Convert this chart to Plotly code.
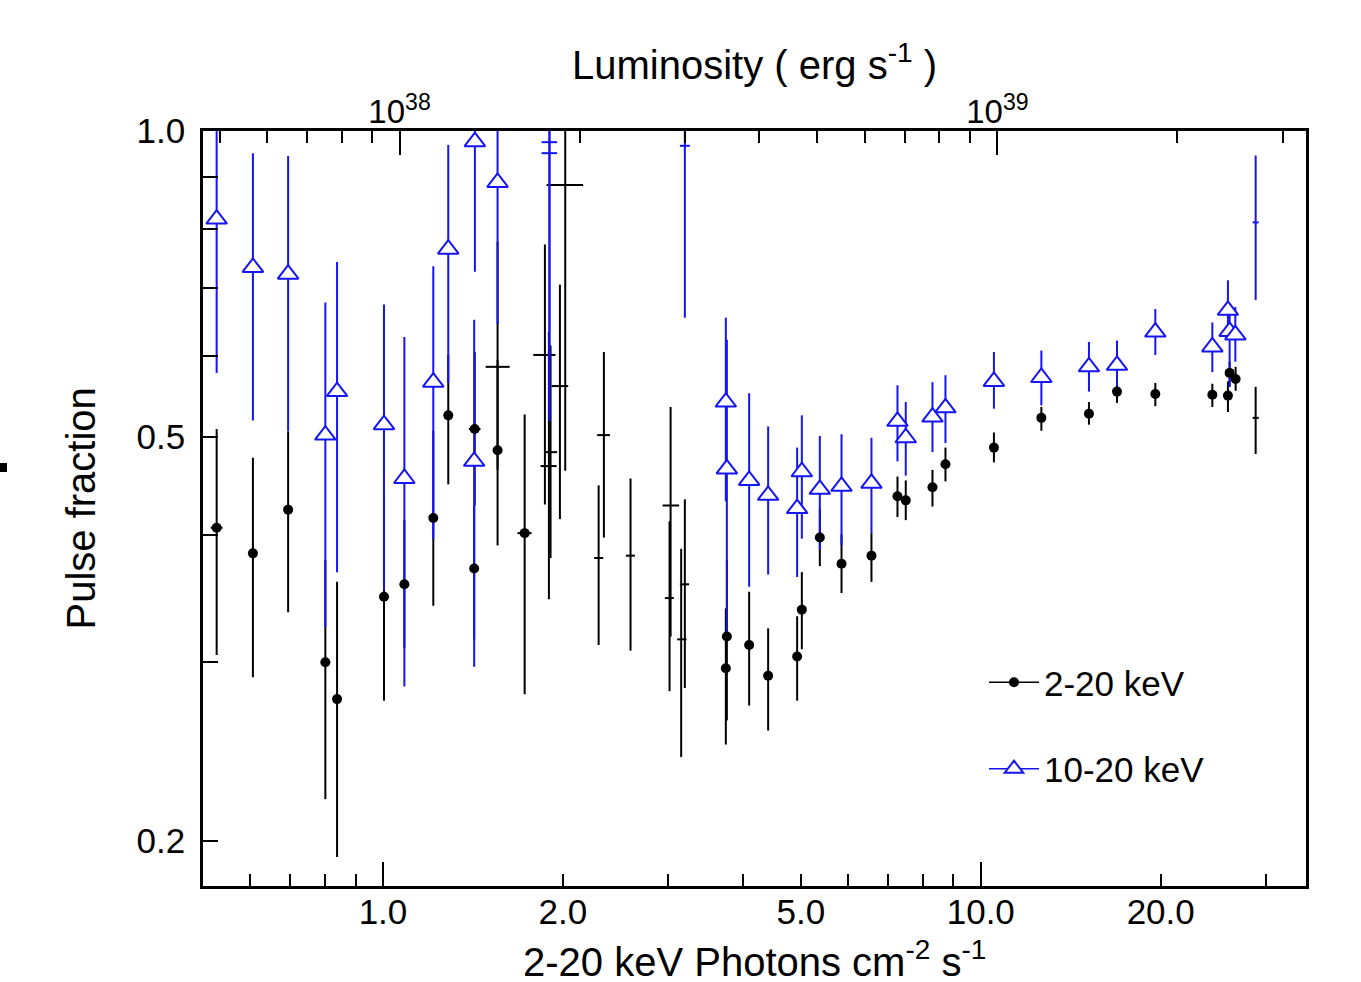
import math
import plotly.graph_objects as go

# ---------------- data ----------------
# 2-20 keV pulse fraction, filled dots
hard_x    = [0.527, 0.606, 0.694, 0.801, 0.838, 1.004, 1.086, 1.214, 1.286, 1.424, 1.421, 1.555, 1.726,
             3.761, 3.746, 4.098, 4.409, 4.930, 5.020, 5.380, 5.849, 6.564, 7.256, 7.491, 8.303, 8.729,
             10.52, 12.63, 15.17, 16.90, 19.59, 24.40, 25.91, 26.08, 26.69]
hard_xerr = [0.012, 0.005, 0.005, 0.006, 0.006, 0.007, 0.008, 0.009, 0.009, 0.032, 0.010, 0.011, 0.047,
             0.025, 0.025, 0.030, 0.030, 0.035, 0.035, 0.040, 0.040, 0.045, 0.050, 0.050, 0.060, 0.060,
             0.070, 0.090, 0.100, 0.120, 0.130, 0.170, 0.180, 0.180, 0.180]
hard_y    = [0.407, 0.384, 0.424, 0.300, 0.276, 0.348, 0.358, 0.416, 0.525, 0.509, 0.371, 0.485, 0.402,
             0.318, 0.296, 0.312, 0.291, 0.304, 0.338, 0.398, 0.375, 0.382, 0.437, 0.433, 0.446, 0.470,
             0.488, 0.522, 0.527, 0.554, 0.551, 0.550, 0.549, 0.578, 0.570]
hard_yhi  = [0.509, 0.477, 0.506, 0.378, 0.360, 0.441, 0.414, 0.507, 0.602, 0.606, 0.428, 0.595, 0.526,
             0.378, 0.339, 0.352, 0.324, 0.333, 0.368, 0.425, 0.401, 0.402, 0.457, 0.453, 0.464, 0.488,
             0.505, 0.535, 0.541, 0.567, 0.565, 0.564, 0.567, 0.593, 0.586]
hard_ylo  = [0.305, 0.290, 0.336, 0.220, 0.193, 0.275, 0.310, 0.341, 0.449, 0.428, 0.316, 0.391, 0.279,
             0.263, 0.249, 0.272, 0.257, 0.275, 0.309, 0.373, 0.351, 0.360, 0.417, 0.414, 0.427, 0.452,
             0.472, 0.507, 0.514, 0.540, 0.536, 0.535, 0.529, 0.560, 0.555]

# 10-20 keV pulse fraction, open triangles
soft_x   = [0.527, 0.606, 0.694, 0.801, 0.838, 1.004, 1.086, 1.214, 1.286, 1.425, 1.421, 1.555,
            3.746, 3.761, 4.098, 4.409, 4.930, 5.020, 5.380, 5.849, 6.564, 7.256, 7.491, 8.303, 8.729,
            10.52, 12.63, 15.17, 16.90, 19.59, 24.40, 25.91, 26.08, 26.66]
soft_y   = [0.819, 0.734, 0.723, 0.502, 0.554, 0.514, 0.455, 0.566, 0.765, 0.976, 0.473, 0.890,
            0.541, 0.465, 0.453, 0.438, 0.425, 0.462, 0.444, 0.447, 0.450, 0.518, 0.499, 0.523, 0.534,
            0.567, 0.572, 0.586, 0.588, 0.634, 0.613, 0.666, 0.635, 0.630]
soft_yhi = [1.500, 0.951, 0.945, 0.678, 0.743, 0.675, 0.627, 0.736, 0.969, 1.500, 0.652, 1.500,
            0.655, 0.623, 0.552, 0.512, 0.488, 0.525, 0.501, 0.503, 0.499, 0.562, 0.541, 0.566, 0.575,
            0.606, 0.608, 0.620, 0.622, 0.668, 0.648, 0.713, 0.669, 0.671]
soft_ylo = [0.578, 0.519, 0.506, 0.325, 0.368, 0.353, 0.284, 0.397, 0.565, 0.727, 0.297, 0.646,
            0.432, 0.319, 0.356, 0.366, 0.364, 0.397, 0.387, 0.391, 0.402, 0.473, 0.458, 0.483, 0.493,
            0.533, 0.537, 0.554, 0.560, 0.602, 0.579, 0.623, 0.560, 0.593]

# 2-20 keV low-significance points, drawn as plain crosses
hard_cross_x   = [1.555, 1.866, 1.977, 1.907, 1.895, 2.018, 2.342, 2.295, 2.595, 3.028, 3.016, 3.199, 3.154, 28.83]
hard_cross_xlo = [1.485, 1.784, 1.915, 1.861, 1.835, 1.878, 2.282, 2.256, 2.549, 2.936, 2.962, 3.138, 3.106, 28.50]
hard_cross_xhi = [1.629, 1.944, 2.041, 1.956, 1.952, 2.162, 2.397, 2.336, 2.639, 3.129, 3.066, 3.252, 3.220, 29.17]
hard_cross_y   = [0.586, 0.602, 0.561, 0.483, 0.468, 0.885, 0.502, 0.380, 0.382, 0.428, 0.347, 0.358, 0.316, 0.522]
hard_cross_yhi = [0.778, 0.773, 0.706, 0.615, 0.634, 1.500, 0.606, 0.448, 0.455, 0.535, 0.413, 0.434, 0.388, 0.560]
hard_cross_ylo = [0.464, 0.429, 0.415, 0.380, 0.346, 0.463, 0.398, 0.312, 0.308, 0.318, 0.281, 0.283, 0.242, 0.481]

# 10-20 keV low-significance points, drawn as plain crosses
soft_cross_x   = [1.899, 1.899, 3.199, 28.83]
soft_cross_xlo = [1.842, 1.842, 3.138, 28.50]
soft_cross_xhi = [1.956, 1.956, 3.261, 29.17]
soft_cross_y   = [0.975, 0.951, 0.967, 0.813]
soft_cross_yhi = [1.500, 1.500, 1.500, 0.946]
soft_cross_ylo = [0.527, 0.518, 0.655, 0.682]

# axes
X_RANGE = (0.5, 35.0)
Y_RANGE = (0.1807, 1.0)
LUM_PER_PHOTON = 9.38e37
x_major_vals = [1, 2, 5, 10, 20]
x_major_text = ["1.0", "2.0", "5.0", "10.0", "20.0"]
x_long_vals = [1, 10]
x_minor_vals = [0.6, 0.7, 0.8, 0.9, 3, 4, 6, 7, 8, 9, 30]
y_major_vals = [0.2, 0.5, 1.0]
y_major_text = ["0.2", "0.5", "1.0"]
y_minor_vals = [0.3, 0.4, 0.6, 0.7, 0.8, 0.9]
lum_major_vals = [1e38, 1e39]
lum_major_text = ["10<sup>38</sup>", "10<sup>39</sup>"]
lum_minor_vals = [5e37, 6e37, 7e37, 8e37, 9e37, 2e38, 3e38, 4e38, 5e38, 6e38, 7e38, 8e38, 9e38, 2e39, 3e39]

series_names = ["2-20 keV", "10-20 keV"]

# ---------------- figure ----------------
BLACK = "#000000"
BLUE = "#1414F5"
FONT = "Liberation Sans, Arial, Helvetica, sans-serif"


def diff(a, b):
    return [u - v for u, v in zip(a, b)]


def errs(y, hi, lo, color):
    return dict(type="data", symmetric=False, array=diff(hi, y), arrayminus=diff(y, lo),
                color=color, thickness=2, width=0)


def xerrs(x, hi, lo, color):
    return dict(type="data", symmetric=False, array=diff(hi, x), arrayminus=diff(x, lo),
                color=color, thickness=2, width=0)


invisible = dict(size=1, color="rgba(0,0,0,0)")
fig = go.Figure()

# error bars (black under blue)
fig.add_trace(go.Scatter(x=hard_cross_x, y=hard_cross_y, mode="markers", marker=invisible,
                         error_y=errs(hard_cross_y, hard_cross_yhi, hard_cross_ylo, BLACK),
                         error_x=xerrs(hard_cross_x, hard_cross_xhi, hard_cross_xlo, BLACK),
                         showlegend=False, hoverinfo="skip"))
fig.add_trace(go.Scatter(x=hard_x, y=hard_y, mode="markers", marker=invisible,
                         error_y=errs(hard_y, hard_yhi, hard_ylo, BLACK),
                         error_x=dict(type="data", array=hard_xerr, color=BLACK, thickness=2, width=0),
                         showlegend=False, hoverinfo="skip"))
fig.add_trace(go.Scatter(x=soft_cross_x, y=soft_cross_y, mode="markers", marker=invisible,
                         error_y=errs(soft_cross_y, soft_cross_yhi, soft_cross_ylo, BLUE),
                         error_x=xerrs(soft_cross_x, soft_cross_xhi, soft_cross_xlo, BLUE),
                         showlegend=False, hoverinfo="skip"))
fig.add_trace(go.Scatter(x=soft_x, y=soft_y, mode="markers", marker=invisible,
                         error_y=errs(soft_y, soft_yhi, soft_ylo, BLUE),
                         showlegend=False, hoverinfo="skip"))

# markers
dot_marker = dict(symbol="circle", size=10, color=BLACK, line=dict(width=0))
tri_marker = dict(symbol="triangle-up", size=18, color="white", line=dict(color=BLUE, width=2))
fig.add_trace(go.Scatter(x=hard_x, y=hard_y, mode="markers", marker=dot_marker,
                         showlegend=False, name=series_names[0]))
fig.add_trace(go.Scatter(x=soft_x, y=soft_y, mode="markers", marker=tri_marker,
                         showlegend=False, name=series_names[1]))

# legend entries
fig.add_trace(go.Scatter(x=[None], y=[None], mode="lines+markers", name=series_names[0],
                         line=dict(color=BLACK, width=1.5), marker=dot_marker, legendgroup="a"))
fig.add_trace(go.Scatter(x=[None], y=[None], mode="lines+markers", name=series_names[1],
                         line=dict(color=BLUE, width=1.5), marker=tri_marker, legendgroup="b"))

# helper traces so that the extra axes are drawn
fig.add_trace(go.Scatter(x=[None], y=[None], xaxis="x2", yaxis="y", showlegend=False, hoverinfo="skip"))
fig.add_trace(go.Scatter(x=[None], y=[None], xaxis="x3", yaxis="y", showlegend=False, hoverinfo="skip"))

L, R, T, B = 203, 1306, 131, 886
W, H = 1361, 982
xr = [math.log10(X_RANGE[0]), math.log10(X_RANGE[1])]
yr = [math.log10(Y_RANGE[0]), math.log10(Y_RANGE[1])]
lr = [math.log10(X_RANGE[0] * LUM_PER_PHOTON), math.log10(X_RANGE[1] * LUM_PER_PHOTON)]

tickfont = dict(family=FONT, size=35, color=BLACK)
common = dict(showgrid=False, zeroline=False, ticks="inside", tickcolor=BLACK, tickwidth=1.5)
TITLE_SIZE = 40

fig.update_layout(
    width=W, height=H,
    margin=dict(l=L, r=W - R, t=T, b=H - B, pad=0),
    paper_bgcolor="white", plot_bgcolor="white",
    font=dict(family=FONT, color=BLACK),
    xaxis=dict(type="log", range=xr, showline=True, mirror=True, linecolor=BLACK, linewidth=2.5,
               tickmode="array", tickvals=x_major_vals, ticktext=x_major_text, ticklen=12,
               tickfont=tickfont, ticklabelstandoff=-7,
               minor=dict(ticks="inside", ticklen=12, tickwidth=1.5, tickcolor=BLACK,
                          tickmode="array", tickvals=x_minor_vals, showgrid=False),
               **common),
    xaxis3=dict(type="log", range=xr, overlaying="x", anchor="y", side="bottom",
                tickmode="array", tickvals=x_long_vals, ticklen=24, showticklabels=False,
                showline=False, **common),
    xaxis2=dict(type="log", range=lr, overlaying="x", anchor="y", side="top",
                tickmode="array", tickvals=lum_major_vals, ticktext=lum_major_text, ticklen=24,
                tickfont=dict(family=FONT, size=33, color=BLACK), showline=False,
                minor=dict(ticks="inside", ticklen=12, tickwidth=1.5, tickcolor=BLACK,
                           tickmode="array", tickvals=lum_minor_vals, showgrid=False),
                **common),
    yaxis=dict(type="log", range=yr, showline=True, mirror=True, linecolor=BLACK, linewidth=2.5,
               tickmode="array", tickvals=y_major_vals, ticktext=y_major_text, ticklen=15,
               tickfont=tickfont, ticklabelstandoff=8,
               minor=dict(ticks="inside", ticklen=15, tickwidth=1.5, tickcolor=BLACK,
                          tickmode="array", tickvals=y_minor_vals, showgrid=False),
               **common),
    legend=dict(x=(984 - L) / (R - L), y=(B - 653) / (B - T), xanchor="left", yanchor="top",
                bgcolor="rgba(0,0,0,0)", borderwidth=0, font=dict(family=FONT, size=35, color=BLACK),
                traceorder="grouped", tracegroupgap=38, itemwidth=50),
    annotations=[
        dict(text="Pulse fraction", xref="paper", yref="paper", x=(80 - L) / (R - L), y=0.5,
             textangle=-90, showarrow=False, xanchor="center", yanchor="middle",
             font=dict(family=FONT, size=TITLE_SIZE, color=BLACK)),
        dict(text="2-20 keV Photons cm<sup>-2</sup> s<sup>-1</sup>", xref="paper", yref="paper",
             x=0.5, y=(B - 959) / (B - T), showarrow=False, xanchor="center", yanchor="middle",
             font=dict(family=FONT, size=TITLE_SIZE, color=BLACK)),
        dict(text="Luminosity ( erg s<sup>-1</sup> )", xref="paper", yref="paper",
             x=0.5, y=(B - 62) / (B - T), showarrow=False, xanchor="center", yanchor="middle",
             font=dict(family=FONT, size=TITLE_SIZE, color=BLACK)),
    ],
    shapes=[dict(type="rect", xref="paper", yref="paper", x0=(0 - L) / (R - L), x1=(7 - L) / (R - L),
                 y0=(B - 472) / (B - T), y1=(B - 463) / (B - T), fillcolor=BLACK, line=dict(width=0))],
)

fig.write_html("out.html", config={"displayModeBar": False},
               post_script="document.body.style.margin='0';document.body.style.overflow='hidden';")
